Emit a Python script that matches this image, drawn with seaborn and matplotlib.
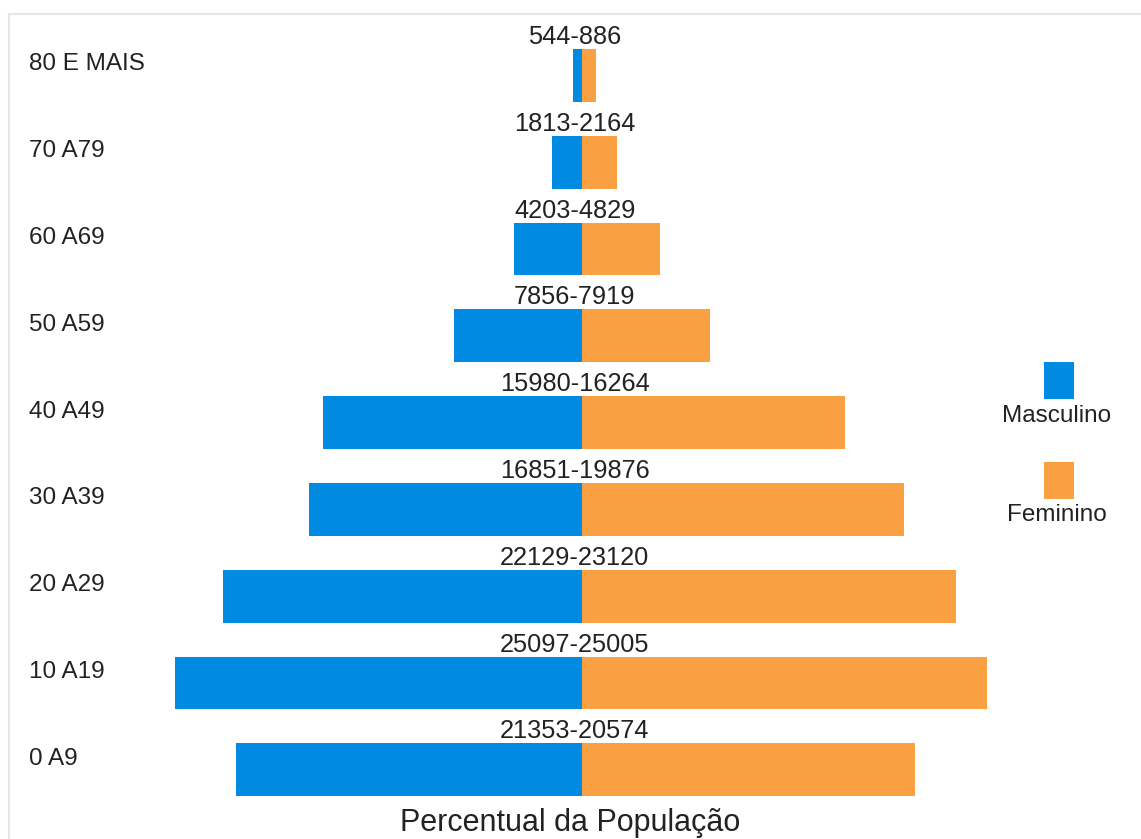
import matplotlib
matplotlib.use("Agg")
import matplotlib.pyplot as plt
from matplotlib.patches import Rectangle
from matplotlib.transforms import offset_copy
import seaborn as sns
import pandas as pd

faixas = ["0 A9", "10 A19", "20 A29", "30 A39", "40 A49", "50 A59", "60 A69", "70 A79", "80 E MAIS"]
masculino = [21353, 25097, 22129, 16851, 15980, 7856, 4203, 1813, 544]
feminino = [20574, 25005, 23120, 19876, 16264, 7919, 4829, 2164, 886]

cor_m = "#008ae2"
cor_f = "#f9a142"
txt = "#222222"

sns.set_theme(style="white")
plt.rcParams["font.family"] = ["Liberation Sans", "DejaVu Sans"]

rows = []
for i, (fx, m, f) in enumerate(zip(faixas, masculino, feminino)):
    rows.append({"pos": i, "valor": -m, "sexo": "Masculino"})
    rows.append({"pos": i, "valor": f, "sexo": "Feminino"})
df = pd.DataFrame(rows)

W, H = 1141, 839
fig = plt.figure(figsize=(W / 100, H / 100), dpi=100)
ax_l, ax_t = 9, 14
ax = fig.add_axes([ax_l / W, 0, (W - ax_l) / W, (H - ax_t) / H])

sns.barplot(data=df, x="valor", y="pos", hue="sexo", orient="h", native_scale=True,
            palette={"Masculino": cor_m, "Feminino": cor_f}, dodge=False,
            width=0.61, ax=ax, legend=False, saturation=1, linewidth=0)

# layout mapping
cx, scale = 581.7, 0.0162
y0, step = 769.8, 86.8
ax.set_xlim((ax_l - cx) / scale, (W - cx) / scale)
ax.set_ylim((y0 - H) / step, (y0 - ax_t) / step)

for s in ["right", "bottom"]:
    ax.spines[s].set_visible(False)
for s in ["left", "top"]:
    ax.spines[s].set_color("#e6e6e6")
    ax.spines[s].set_linewidth(1.5)
ax.set_xticks([])
ax.set_yticks([])
ax.set_xlabel("")
ax.set_ylabel("")

# y labels
ytr = offset_copy(ax.get_yaxis_transform(), fig=fig, x=0, y=11, units="dots")
for i, fx in enumerate(faixas):
    ax.text((29 - ax_l) / (W - ax_l), i, fx, transform=ytr, ha="left", va="center",
            fontsize=17.5, color=txt)

# data labels
dtr = offset_copy(ax.transData, fig=fig, x=-7, y=12, units="dots")
for i, (m, f) in enumerate(zip(masculino, feminino)):
    ax.text(0, i + 0.305, f"{m}-{f}", transform=dtr, ha="center", va="center",
            fontsize=18.3, color=txt)

# x label
fig.text(570 / W, 1 - 823 / H, "Percentual da População", ha="center", va="center",
         fontsize=22, color=txt)

# legend
for (nome, cor, sq_top, t_y) in [("Masculino", cor_m, 362, 416), ("Feminino", cor_f, 462, 515)]:
    fig.patches.append(Rectangle((1044 / W, 1 - (sq_top + 37) / H), 30 / W, 37 / H,
                                 transform=fig.transFigure, facecolor=cor, edgecolor="none"))
    fig.text(1057 / W, 1 - t_y / H, nome, ha="center", va="center", fontsize=17.5, color=txt)

fig.savefig("out.png", dpi=100)
